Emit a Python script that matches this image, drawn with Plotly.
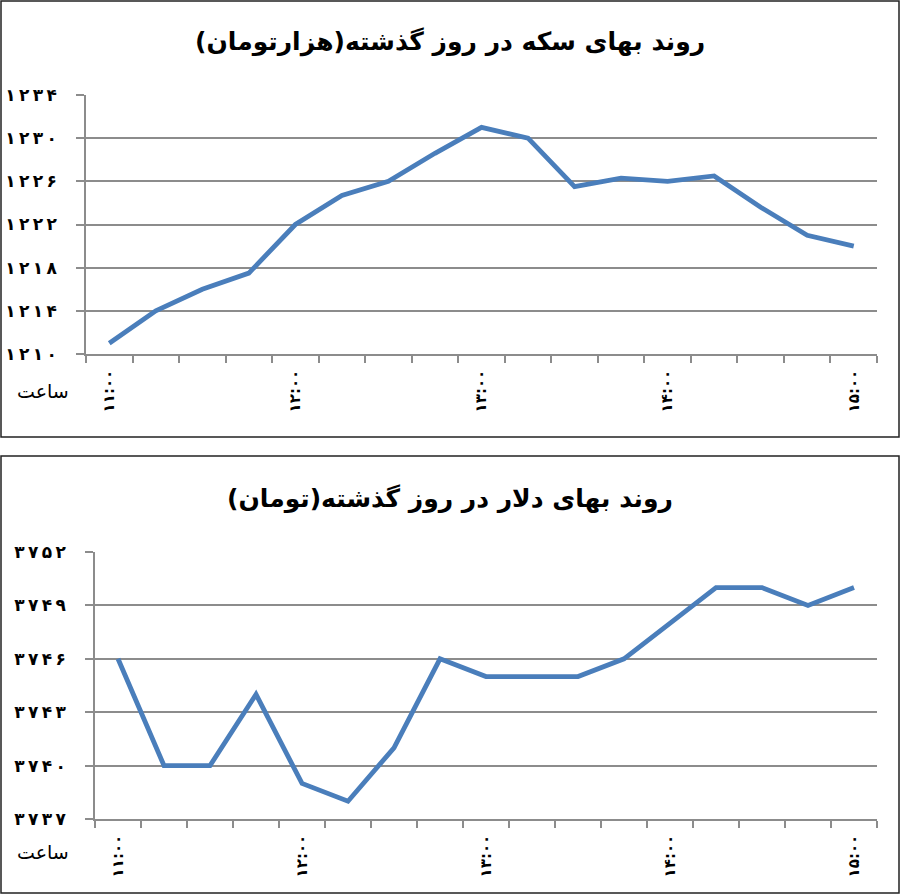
import plotly.graph_objects as go

# ---------------- data ----------------
times = ["۱۱:۰۰", "۱۱:۱۵", "۱۱:۳۰", "۱۱:۴۵", "۱۲:۰۰", "۱۲:۱۵", "۱۲:۳۰", "۱۲:۴۵",
         "۱۳:۰۰", "۱۳:۱۵", "۱۳:۳۰", "۱۳:۴۵", "۱۴:۰۰", "۱۴:۱۵", "۱۴:۳۰", "۱۴:۴۵", "۱۵:۰۰"]
hour_labels = ["۱۱:۰۰", "۱۲:۰۰", "۱۳:۰۰", "۱۴:۰۰", "۱۵:۰۰"]

coin_price = [1211, 1214, 1216, 1217.5, 1222, 1224.7, 1226, 1228.6, 1231, 1230,
              1225.5, 1226.3, 1226, 1226.5, 1223.6, 1221, 1220]
dollar_price = [3746, 3740, 3740, 3744, 3739, 3738, 3741, 3746, 3745, 3745,
                3745, 3746, 3748, 3750, 3750, 3749, 3750]

coin_ticks = [1210, 1214, 1218, 1222, 1226, 1230, 1234]
dollar_ticks = [3737, 3740, 3743, 3746, 3749, 3752]

coin_title = "روند بهای سکه در روز گذشته(هزارتومان)"
dollar_title = "روند بهای دلار در روز گذشته(تومان)"
x_axis_label = "ساعت"

# ---------------- helpers ----------------
FA = str.maketrans("0123456789", "۰۱۲۳۴۵۶۷۸۹")
def fa(n):
    # Persian digits, slightly spaced like the original
    return "\u2009".join(str(n).translate(FA))

W, H = 900, 895
LINE = "#4a7ebb"
GRID = "#8c8c8c"

fig = go.Figure()
fig.add_trace(go.Scatter(x=times, y=coin_price, mode="lines",
                         line=dict(color=LINE, width=4.8), xaxis="x", yaxis="y",
                         hoverinfo="skip"))
fig.add_trace(go.Scatter(x=times, y=dollar_price, mode="lines",
                         line=dict(color=LINE, width=4.8), xaxis="x2", yaxis="y2",
                         hoverinfo="skip"))

xtext = [t if t in hour_labels else "" for t in times]

def xax(domain, anchor):
    return dict(domain=domain, anchor=anchor, type="category", automargin=False,
                categoryorder="array", categoryarray=times,
                range=[-0.5, len(times) - 0.5],
                tickmode="array", tickvals=times, ticktext=xtext,
                tickson="boundaries", ticks="outside", ticklen=7, tickwidth=1.5,
                tickcolor=GRID, showline=True, linecolor=GRID, linewidth=1.5,
                showgrid=False, zeroline=False, tickangle=-90,
                ticklabelstandoff=8,
                tickfont=dict(family="DejaVu Sans", size=15, color="#000", weight="bold"),
                fixedrange=True)

def yax(domain, anchor, ticks, rng):
    return dict(domain=domain, anchor=anchor, range=rng, automargin=False,
                tickmode="array", tickvals=ticks, ticktext=[fa(t) for t in ticks],
                ticks="outside", ticklen=8, tickwidth=1.5, tickcolor=GRID,
                showline=True, linecolor=GRID, linewidth=1.5,
                showgrid=True, gridcolor=GRID, gridwidth=1.5, zeroline=False,
                ticklabelstandoff=16,
                tickfont=dict(family="DejaVu Sans", size=17, color="#000", weight="bold"),
                fixedrange=True)

fig.update_layout(
    autosize=True,
    margin=dict(l=0, r=0, t=0, b=0, pad=0),
    paper_bgcolor="white", plot_bgcolor="white",
    showlegend=False,
    xaxis=xax([86 / W, 877 / W], "y"),
    yaxis=yax([1 - 354 / H, 1 - 95 / H], "x", coin_ticks, [1210, 1234]),
    xaxis2=xax([95 / W, 877 / W], "y2"),
    yaxis2=yax([1 - 819 / H, 1 - 552 / H], "x2", dollar_ticks, [3737, 3752]),
)

# panel borders
for y0, y1 in [(1, 437), (456, 893)]:
    fig.add_shape(type="rect", xref="paper", yref="paper",
                  x0=1 / W, x1=899 / W, y0=1 - y1 / H, y1=1 - y0 / H,
                  line=dict(color="#222", width=1.5), fillcolor="rgba(0,0,0,0)", layer="below")

# titles and axis labels
for txt, yc in [(coin_title, 42), (dollar_title, 499)]:
    fig.add_annotation(text=txt, xref="paper", yref="paper", x=0.5, y=1 - yc / H,
                       showarrow=False, xanchor="center", yanchor="middle",
                       font=dict(family="DejaVu Sans", size=25, color="#000", weight="bold"))
for yc in [391, 852]:
    fig.add_annotation(text=x_axis_label, xref="paper", yref="paper", x=43 / W, y=1 - yc / H,
                       showarrow=False, xanchor="center", yanchor="middle",
                       font=dict(family="DejaVu Sans", size=19, color="#000"))

fig.write_html("out.html",
               default_width=f"{W}px; position:absolute; left:0; top:0",
               default_height=f"{H}px",
               config={"displayModeBar": False})
